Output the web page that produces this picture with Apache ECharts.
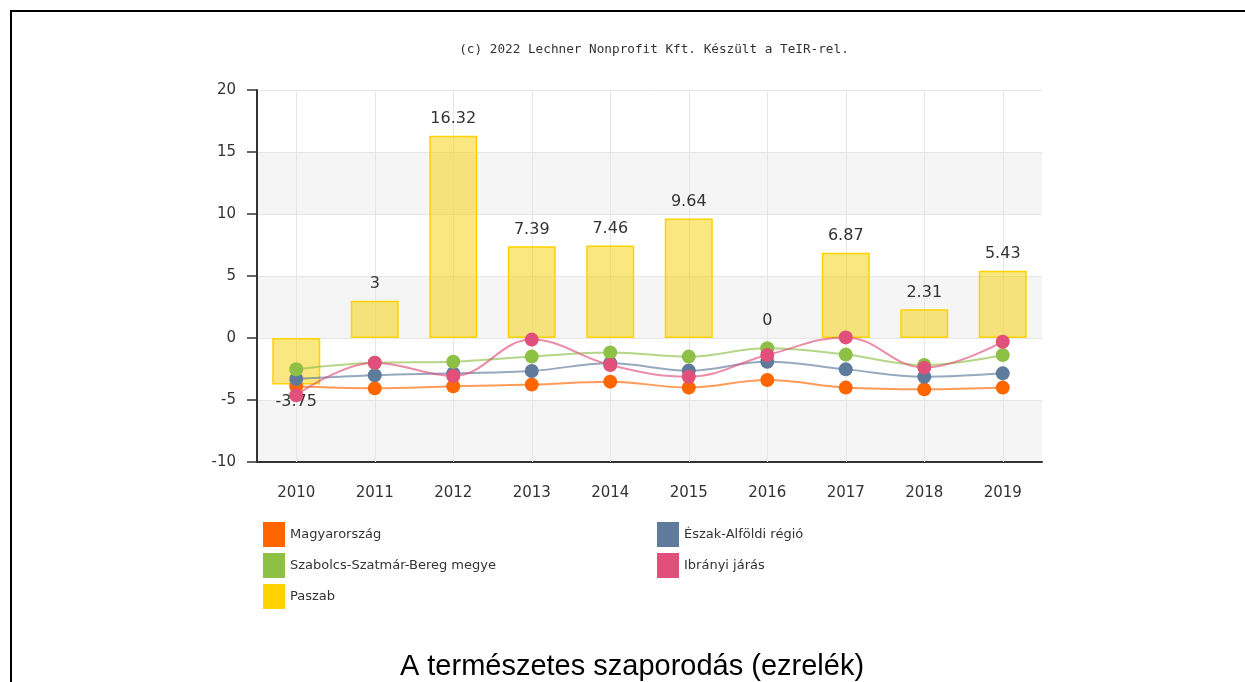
<!DOCTYPE html>
<html>
<head>
<meta charset="utf-8">
<script src="https://cdn.jsdelivr.net/npm/echarts@6/dist/echarts.min.js"></script>
<style>
html,body{margin:0;padding:0;background:#fff;}
#chart{width:1245px;height:682px;}
</style>
</head>
<body>
<div id="chart"></div>
<script>
var years = ['2010','2011','2012','2013','2014','2015','2016','2017','2018','2019'];
var magyarorszag = [-3.9, -4.06, -3.9, -3.76, -3.52, -4.0, -3.39, -4.0, -4.14, -4.0];
var eszakAlfold = [-3.31, -3.01, -2.85, -2.66, -2.04, -2.63, -1.91, -2.53, -3.12, -2.85];
var szabolcs = [-2.52, -2.0, -1.91, -1.5, -1.16, -1.5, -0.83, -1.34, -2.18, -1.37];
var ibranyi = [-4.62, -1.99, -3.06, -0.13, -2.18, -3.12, -1.37, 0.05, -2.39, -0.3];
var paszab = [-3.75, 3, 16.32, 7.39, 7.46, 9.64, 0, 6.87, 2.31, 5.43];
var yTicks = [-10, -5, 0, 5, 10, 15, 20];

var chart = echarts.init(document.getElementById('chart'), null, {renderer:'canvas'});
var font = 'DejaVu Sans, Verdana, sans-serif';

function lineSeries(name, data, color) {
  return {
    name: name, type: 'line', data: data, smooth: 0.4,
    symbol: 'circle', symbolSize: 14, z: 3,
    itemStyle: {color: color},
    lineStyle: {color: color, width: 2, opacity: 0.65},
    emphasis: {disabled: true}
  };
}

chart.setOption({
  animation: false,
  backgroundColor: '#fff',
  title: [
    {text: '(c) 2022 Lechner Nonprofit Kft. Készült a TeIR-rel.', left: 649, top: 38, textAlign: 'center',
     textStyle: {fontFamily: 'DejaVu Sans Mono, monospace', fontSize: 12.7, fontWeight: 'normal', color: '#333'}},
    {text: 'A természetes szaporodás (ezrelék)', left: 627, top: 647, textAlign: 'center',
     textStyle: {fontFamily: 'Liberation Sans, Arial, sans-serif', fontSize: 29, fontWeight: 'normal', color: '#000'}}
  ],
  graphic: [
    {type: 'line', shape: {x1: 10, y1: 11, x2: 1245, y2: 11}, style: {stroke: '#000', lineWidth: 2}},
    {type: 'line', shape: {x1: 11, y1: 10, x2: 11, y2: 682}, style: {stroke: '#000', lineWidth: 2}}
  ],
  legend: [
    {data: [{name: 'Magyarország'}, {name: 'Szabolcs-Szatmár-Bereg megye'}, {name: 'Paszab', itemStyle: {color: '#FFD200', borderWidth: 0}}],
     orient: 'vertical', left: 258, top: 517, itemWidth: 22, itemHeight: 25, itemGap: 6, itemTextGap: 6, icon: 'rect',
     textStyle: {fontFamily: font, fontSize: 13, color: '#333'}, selectedMode: false},
    {data: ['Észak-Alföldi régió', 'Ibrányi járás'], orient: 'vertical',
     left: 652, top: 517, itemWidth: 22, itemHeight: 25, itemGap: 6, itemTextGap: 6, icon: 'rect',
     textStyle: {fontFamily: font, fontSize: 13, color: '#333'}, selectedMode: false}
  ],
  grid: {left: 257, right: 203, top: 90, bottom: 220, containLabel: false},
  xAxis: {
    type: 'category', data: years, boundaryGap: true,
    axisLine: {onZero: false, lineStyle: {color: '#333', width: 2}},
    axisTick: {alignWithLabel: true, length: 7, lineStyle: {color: '#333', width: 1.5}},
    axisLabel: {fontFamily: font, fontSize: 15, color: '#333', margin: 24},
    splitLine: {show: false}
  },
  yAxis: {
    type: 'value', min: yTicks[0], max: yTicks[yTicks.length - 1], interval: 5,
    axisLine: {show: true, lineStyle: {color: '#333', width: 2}},
    axisTick: {show: true, length: 10, lineStyle: {color: '#333', width: 1.5}},
    axisLabel: {fontFamily: font, fontSize: 15, color: '#333', margin: 21},
    splitLine: {show: true, lineStyle: {color: '#e6e6e6', width: 1}},
    splitArea: {show: true, areaStyle: {color: ['#f5f5f5', '#ffffff']}}
  },
  series: [
    {
      name: '_grid', type: 'line', data: [], z: 1, silent: true,
      markLine: {
        z: 1, silent: true, symbol: ['none', 'none'], label: {show: false},
        lineStyle: {color: '#e6e6e6', width: 1, type: 'solid'},
        data: years.map(function (y) { return {xAxis: y}; })
      }
    },
    {
      name: 'Paszab', type: 'bar', barWidth: 48, z: 2,
      data: paszab.map(function (v) {
        return {value: v, label: {position: v < 0 ? 'bottom' : 'top'},
                itemStyle: v === 0 ? {borderWidth: 0} : undefined};
      }),
      itemStyle: {color: 'rgba(245,208,0,0.5)', borderColor: '#FFD200', borderWidth: 1.5},
      label: {show: true, fontFamily: font, fontSize: 16, color: '#333', distance: 9},
      emphasis: {disabled: true}
    },
    lineSeries('Magyarország', magyarorszag, '#FF6600'),
    lineSeries('Észak-Alföldi régió', eszakAlfold, '#5E7B9C'),
    lineSeries('Szabolcs-Szatmár-Bereg megye', szabolcs, '#8FC046'),
    lineSeries('Ibrányi járás', ibranyi, '#E0507A')
  ]
});
</script>
</body>
</html>
